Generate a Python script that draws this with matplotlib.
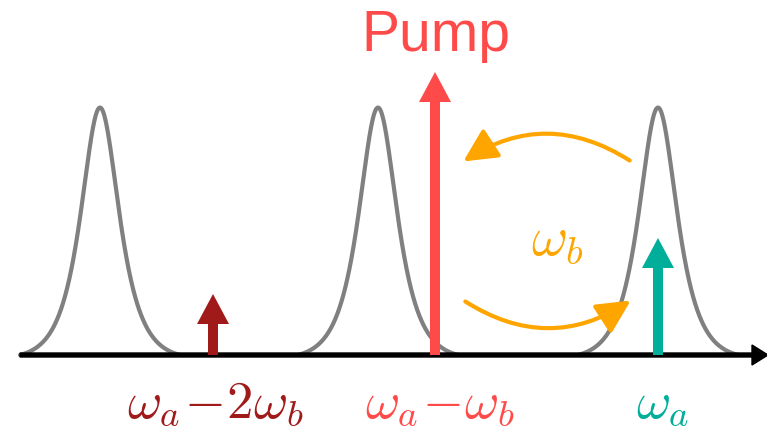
import numpy as np
import matplotlib
matplotlib.use("Agg")
import matplotlib.pyplot as plt
from matplotlib.patches import FancyArrowPatch

plt.rcParams['mathtext.fontset'] = 'cm'

# ---- data (horizontal positions in frequency units, heights in arbitrary units)
peak_centers = [100, 378, 658]
peak_height = 252
peak_width = 17
line_freqs = [213, 435, 658]
line_heights = [61, 283, 117]
line_colors = ['#A01A1A', '#FF4A4A', '#00AE9A']
line_labels = [r'$\omega_a\!-\!2\omega_b$', r'$\omega_a\!-\!\omega_b$', r'$\omega_a$']
label_x = [215, 440, 663]

fig = plt.figure(figsize=(7.67, 4.30), dpi=100)
ax = fig.add_axes([0, 0, 1, 1])
ax.set_xlim(0, 767)
ax.set_ylim(-75, 355)
ax.axis('off')

# cavity resonances
for c in peak_centers:
    x = np.linspace(c - 80, c + 80, 400)
    y = peak_height / np.cosh((x - c) / peak_width)
    y = y - y.min()
    ax.plot(x, y, color='#808080', lw=3, solid_capstyle='round', zorder=2)

# frequency axis
ax.arrow(20, 0, 748, 0, width=4, head_width=20, head_length=16,
         length_includes_head=True, color='black', zorder=3)

# spectral lines
for f, h, col in zip(line_freqs, line_heights, line_colors):
    ax.arrow(f, 0, 0, h, width=10, head_width=32, head_length=30,
             length_includes_head=True, color=col, lw=0, zorder=4)

for lx, lab, col in zip(label_x, line_labels, line_colors):
    ax.text(lx, -48, lab, color=col, fontsize=38, ha='center', va='center')

ax.text(436, 319, 'Pump', color='#FF4A4A', fontsize=41, ha='center', va='center',
        family='Liberation Sans')

# frequency conversion arrows
orange = '#FFA500'
a1 = FancyArrowPatch((632, 193), (461, 192), connectionstyle='arc3,rad=0.33',
                     arrowstyle='-|>,head_length=1.7,head_width=0.85', mutation_scale=12,
                     color=orange, lw=3, zorder=5)
a2 = FancyArrowPatch((463, 55), (633, 56), connectionstyle='arc3,rad=0.33',
                     arrowstyle='-|>,head_length=1.7,head_width=0.85', mutation_scale=12,
                     color=orange, lw=3, zorder=5)
ax.add_patch(a1)
ax.add_patch(a2)
ax.text(557, 115, r'$\omega_b$', color=orange, fontsize=40, ha='center', va='center')

fig.savefig('out.png', dpi=100)
